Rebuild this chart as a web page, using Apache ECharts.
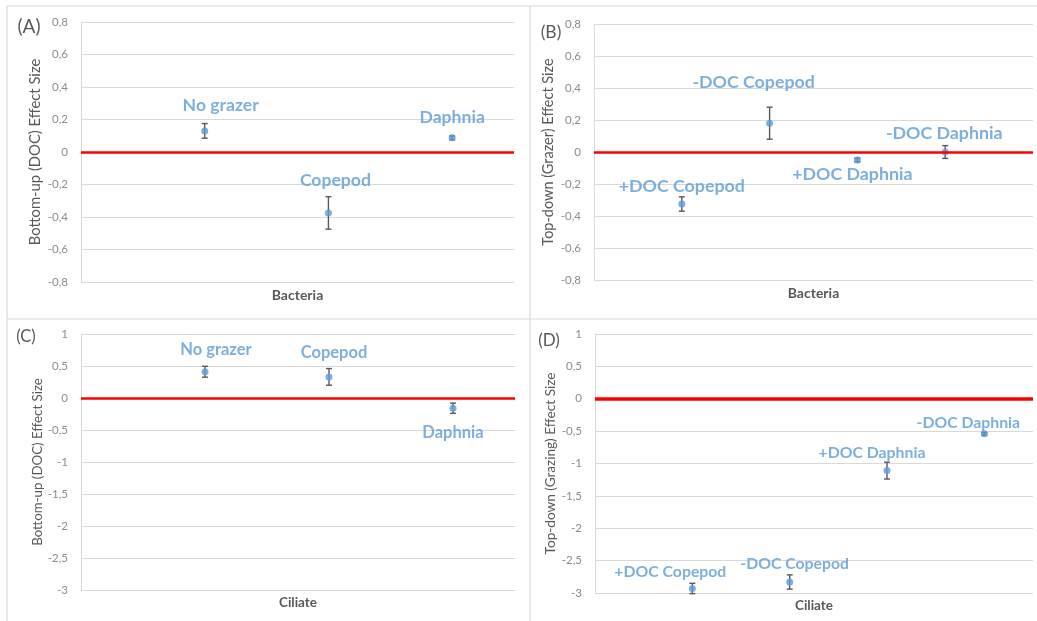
<!DOCTYPE html>
<html>
<head>
<meta charset="utf-8">
<script src="https://cdn.jsdelivr.net/npm/echarts@6/dist/echarts.min.js"></script>
<style>
  html, body { margin: 0; padding: 0; background: #fff; }
  #chart { width: 1037px; height: 621px; }
</style>
</head>
<body>
<div id="chart"></div>
<script>
// (A) Bacteria, bottom-up (DOC) effect
const aNames = ['No grazer', 'Copepod', 'Daphnia'];
const aX = [1, 2, 3];
const aMean = [0.13, -0.375, 0.087];
const aErr = [0.045, 0.1, 0.012];

// (B) Bacteria, top-down (grazer) effect
const bNames = ['+DOC Copepod', '-DOC Copepod', '+DOC Daphnia', '-DOC Daphnia'];
const bX = [1, 2, 3, 4];
const bMean = [-0.325, 0.18, -0.05, 0.0];
const bErr = [0.045, 0.1, 0.012, 0.04];

// (C) Ciliate, bottom-up (DOC) effect
const cNames = ['No grazer', 'Copepod', 'Daphnia'];
const cX = [1, 2, 3];
const cMean = [0.41, 0.33, -0.16];
const cErr = [0.085, 0.13, 0.08];

// (D) Ciliate, top-down (grazing) effect
const dNames = ['+DOC Copepod', '-DOC Copepod', '+DOC Daphnia', '-DOC Daphnia'];
const dX = [1, 2, 3, 4];
const dMean = [-2.93, -2.83, -1.11, -0.54];
const dErr = [0.08, 0.11, 0.13, 0.02];

// Axis ranges and titles
const yRangeBacteria = [-0.8, 0.8, 0.2];
const yRangeCiliate = [-3, 1, 0.5];
const yTitles = ['Bottom-up (DOC) Effect Size', 'Top-down (Grazer) Effect Size',
                 'Bottom-up (DOC) Effect Size', 'Top-down (Grazing) Effect Size'];
const xTitles = ['Bacteria', 'Bacteria', 'Ciliate', 'Ciliate'];
const panelTags = ['(A)', '(B)', '(C)', '(D)'];

// Label placement (pixel offsets from each marker)
const aLabelShift = [[16, -26], [7, -33], [0, -21]];
const bLabelShift = [[0, -18], [-16, -41], [-5, 14], [-1, -19]];
const cLabelShift = [[11, -22], [5, -24], [0, 24]];
const dLabelShift = [[-22, -17], [5, -18], [-15, -18], [-16, -11]];

const FONT = 'Lato, "Open Sans", sans-serif';
const BLUE = '#5b9bd5';
const DARK = '#595959';
const GRID_LINE = '#d9d9d9';

const grids = [
  { left: 81, top: 22, width: 433, height: 260 },
  { left: 594, top: 24, width: 439, height: 256 },
  { left: 81, top: 334, width: 434, height: 256 },
  { left: 595, top: 334, width: 438, height: 259 }
];
const xMax = [3.5, 5, 3.5, 4.5];
const yNameGap = [38, 38, 33, 34];
const yNameSize = [14.8, 14.5, 13.3, 13.6];
const xNameSize = [14, 14, 13.5, 13.5];
const labelSize = [17.6, 17.8, 16.5, 15.8];
const redWidth = [2.5, 2.5, 2.5, 3.5];

const panels = [
  { names: aNames, x: aX, mean: aMean, err: aErr, shift: aLabelShift, range: yRangeBacteria },
  { names: bNames, x: bX, mean: bMean, err: bErr, shift: bLabelShift, range: yRangeBacteria },
  { names: cNames, x: cX, mean: cMean, err: cErr, shift: cLabelShift, range: yRangeCiliate },
  { names: dNames, x: dX, mean: dMean, err: dErr, shift: dLabelShift, range: yRangeCiliate }
];

function fmt(v) {
  return String(+v.toFixed(2)).replace('.', ',');
}

const xAxes = [], yAxes = [], series = [];
panels.forEach((p, i) => {
  xAxes.push({
    gridIndex: i, type: 'value', min: 0, max: xMax[i],
    axisLine: { show: false }, axisTick: { show: false },
    axisLabel: { show: false }, splitLine: { show: false },
    name: xTitles[i], nameLocation: 'middle', nameGap: 6,
    nameTextStyle: { color: DARK, fontFamily: FONT, fontSize: xNameSize[i], fontWeight: 'bold' }
  });
  yAxes.push({
    gridIndex: i, type: 'value', min: p.range[0], max: p.range[1], interval: p.range[2],
    axisLine: { show: true, lineStyle: { color: GRID_LINE, width: 1 } },
    axisTick: { show: false },
    axisLabel: { color: '#8c8c8c', fontFamily: FONT, fontSize: 11.5, margin: 13, formatter: fmt },
    splitLine: { show: true, lineStyle: { color: GRID_LINE, width: 1 } },
    name: yTitles[i], nameLocation: 'middle', nameGap: yNameGap[i], nameRotate: 90,
    nameTextStyle: { color: DARK, fontFamily: FONT, fontSize: yNameSize[i] }
  });
  // error bars
  series.push({
    type: 'custom', xAxisIndex: i, yAxisIndex: i, z: 3, silent: true,
    data: p.x.map((x, k) => [x, p.mean[k], p.err[k]]),
    renderItem: function (params, api) {
      const x = api.value(0), y = api.value(1), e = api.value(2);
      const hi = api.coord([x, y + e]);
      const lo = api.coord([x, y - e]);
      const hw = 3;
      const st = { stroke: DARK, lineWidth: 1.4 };
      return {
        type: 'group',
        children: [
          { type: 'line', shape: { x1: hi[0], y1: hi[1], x2: lo[0], y2: lo[1] }, style: st },
          { type: 'line', shape: { x1: hi[0] - hw, y1: hi[1], x2: hi[0] + hw, y2: hi[1] }, style: st },
          { type: 'line', shape: { x1: lo[0] - hw, y1: lo[1], x2: lo[0] + hw, y2: lo[1] }, style: st }
        ]
      };
    }
  });
  // means with labels, plus the zero reference line
  series.push({
    type: 'scatter', xAxisIndex: i, yAxisIndex: i, z: 4,
    symbol: 'circle', symbolSize: 7,
    itemStyle: { color: BLUE },
    data: p.x.map((x, k) => ({
      value: [x, p.mean[k]],
      name: p.names[k],
      label: { offset: p.shift[k] }
    })),
    label: {
      show: true, position: 'inside', formatter: '{b}',
      color: BLUE, fontFamily: FONT, fontWeight: 'bold', fontSize: labelSize[i]
    },
    markLine: {
      silent: true, symbol: 'none', animation: false,
      label: { show: false },
      lineStyle: { color: '#ff0000', width: redWidth[i], type: 'solid' },
      data: [{ yAxis: 0 }]
    }
  });
});

// panel frames and tags
const frame = { stroke: GRID_LINE, lineWidth: 1.2 };
const graphics = [
  { type: 'line', shape: { x1: 7, y1: 6, x2: 1037, y2: 6 }, style: frame },
  { type: 'line', shape: { x1: 7, y1: 6, x2: 7, y2: 621 }, style: frame },
  { type: 'line', shape: { x1: 530, y1: 6, x2: 530, y2: 621 }, style: frame },
  { type: 'line', shape: { x1: 7, y1: 319, x2: 1037, y2: 319 }, style: frame }
];
const tagPos = [[29, 27, 19], [551, 32, 17.5], [26, 337, 16.5], [549, 341, 17]];
panelTags.forEach((t, i) => {
  graphics.push({
    type: 'text', x: tagPos[i][0], y: tagPos[i][1],
    style: { text: t, fill: DARK, font: tagPos[i][2] + 'px ' + FONT, align: 'center', verticalAlign: 'middle' }
  });
});

const chart = echarts.init(document.getElementById('chart'), null, { renderer: 'canvas' });
chart.setOption({
  animation: false,
  backgroundColor: '#ffffff',
  grid: grids,
  xAxis: xAxes,
  yAxis: yAxes,
  series: series,
  graphic: graphics
});
</script>
</body>
</html>
